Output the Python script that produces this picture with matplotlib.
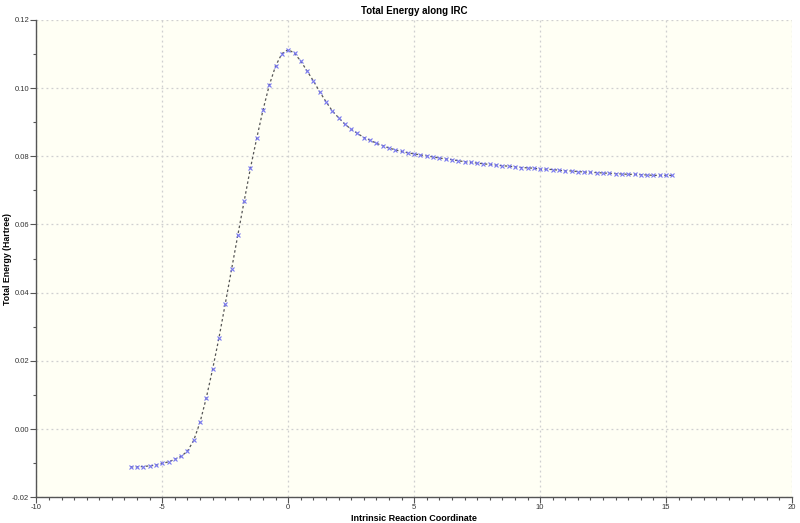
import matplotlib
matplotlib.use("Agg")
import matplotlib.pyplot as plt
from matplotlib.ticker import MultipleLocator, FormatStrFormatter

irc = [-6.25, -6.0, -5.75, -5.5, -5.25, -5.0, -4.75, -4.5, -4.25, -4.0,
       -3.75, -3.5, -3.25, -3.0, -2.75, -2.5, -2.25, -2.0, -1.75, -1.5,
       -1.25, -1.0, -0.75, -0.5, -0.25, 0.0, 0.25, 0.5, 0.75, 1.0,
       1.25, 1.5, 1.75, 2.0, 2.25, 2.5, 2.75, 3.0, 3.25, 3.5,
       3.75, 4.0, 4.25, 4.5, 4.75, 5.0, 5.25, 5.5, 5.75, 6.0,
       6.25, 6.5, 6.75, 7.0, 7.25, 7.5, 7.75, 8.0, 8.25, 8.5,
       8.75, 9.0, 9.25, 9.5, 9.75, 10.0, 10.25, 10.5, 10.75, 11.0,
       11.25, 11.5, 11.75, 12.0, 12.25, 12.5, 12.75, 13.0, 13.25, 13.5,
       13.75, 14.0, 14.25, 14.5, 14.75, 15.0, 15.25]

energy = [-0.0111, -0.0111, -0.0110, -0.0108, -0.0106, -0.0101, -0.0096, -0.0089, -0.0080, -0.0065,
          -0.0033, 0.0020, 0.0092, 0.0176, 0.0267, 0.0367, 0.0468, 0.0569, 0.0668, 0.0765,
          0.0853, 0.0936, 0.1009, 0.1065, 0.1101, 0.1113, 0.1102, 0.1079, 0.1050, 0.1021,
          0.0989, 0.0960, 0.0933, 0.0913, 0.0894, 0.0879, 0.0867, 0.0855, 0.0847, 0.0838,
          0.0831, 0.0824, 0.0819, 0.0814, 0.0810, 0.0807, 0.0804, 0.0801, 0.0798, 0.0795,
          0.0792, 0.0790, 0.0787, 0.0784, 0.0782, 0.0780, 0.0778, 0.0776, 0.0774, 0.0772,
          0.0771, 0.0769, 0.0767, 0.0766, 0.0765, 0.0762, 0.0762, 0.0761, 0.0759, 0.0757,
          0.0757, 0.0755, 0.0754, 0.0753, 0.0752, 0.0751, 0.0750, 0.0749, 0.0748, 0.0747,
          0.0747, 0.0746, 0.0745, 0.0744, 0.0744, 0.0744, 0.0744]

title = "Total Energy along IRC"
xlabel = "Intrinsic Reaction Coordinate"
ylabel = "Total Energy (Hartree)"

plt.rcParams['font.family'] = ['Liberation Sans', 'DejaVu Sans']
plt.rcParams['axes.unicode_minus'] = False

fig = plt.figure(figsize=(8, 5.23), dpi=100)
ax = fig.add_axes([0.0454, 0.0493, 0.9446, 0.9127])
ax.set_facecolor('#fffff4')

ax.plot(irc, energy, linestyle=(0, (2, 2)), color='#555555', linewidth=0.9,
        marker='x', markersize=2.4, markeredgewidth=0.8,
        markeredgecolor='#7878f0', zorder=3)

ax.set_xlim(-10, 20)
ax.set_ylim(-0.02, 0.12)
ax.xaxis.set_major_locator(MultipleLocator(5))
ax.xaxis.set_minor_locator(MultipleLocator(0.5))
ax.yaxis.set_major_locator(MultipleLocator(0.02))
ax.yaxis.set_minor_locator(MultipleLocator(0.01))
ax.yaxis.set_major_formatter(FormatStrFormatter('%.2f'))

ax.grid(True, which='major', linestyle=(0, (1.5, 2.5)), color='#cfcfcf', linewidth=0.9)

for s in ['top', 'right']:
    ax.spines[s].set_visible(False)
for s in ['left', 'bottom']:
    ax.spines[s].set_color('#555555')
    ax.spines[s].set_linewidth(1.0)

ax.tick_params(which='major', direction='out', length=4, width=0.8, color='#555555',
               labelsize=5.5, labelcolor='#333333', pad=1.2)
ax.tick_params(which='minor', direction='out', length=2.5, width=0.8, color='#555555')

ax.set_title(title, fontsize=7, fontweight='bold', pad=4)
ax.set_xlabel(xlabel, fontsize=6.5, fontweight='bold', va='center')
ax.set_ylabel(ylabel, fontsize=6.3, fontweight='bold', va='center')
ax.xaxis.set_label_coords(0.5, -0.0436)
ax.yaxis.set_label_coords(-0.0375, 0.5)

fig.savefig('out.png', dpi=100, facecolor='white')
